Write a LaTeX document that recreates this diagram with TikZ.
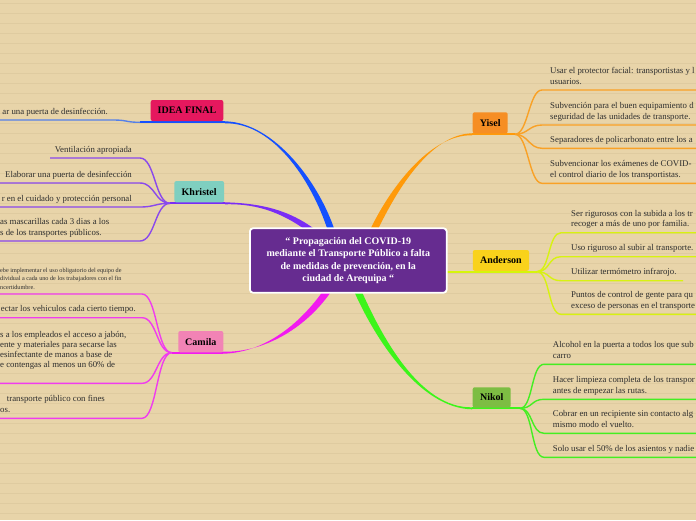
\documentclass[tikz,border=0pt]{standalone}
\usepackage{fontspec}
\setmainfont{Liberation Serif}
\usetikzlibrary{calc}
\pgfdeclarelayer{paper}
\pgfdeclarelayer{links}
\pgfsetlayers{paper,links,main}
\definecolor{bg}{HTML}{E8D4A9}
\definecolor{ruleline}{HTML}{DFCBA0}
\definecolor{blueB}{HTML}{1450FF}
\definecolor{iline}{HTML}{5580E8}
\definecolor{violetB}{HTML}{7A2CF5}
\definecolor{kline}{HTML}{8A48EC}
\definecolor{magB}{HTML}{F21AF0}
\definecolor{cline}{HTML}{F03CEE}
\definecolor{orangeB}{HTML}{FF9A0A}
\definecolor{yline}{HTML}{F9A126}
\definecolor{limeB}{HTML}{D6F50A}
\definecolor{aline}{HTML}{D8F210}
\definecolor{greenB}{HTML}{3CF51A}
\definecolor{nline}{HTML}{44EE22}
\definecolor{ideaF}{HTML}{E5185E}
\definecolor{khrF}{HTML}{7FCFC0}
\definecolor{camF}{HTML}{F283B5}
\definecolor{yisF}{HTML}{F68E24}
\definecolor{andF}{HTML}{F9D21B}
\definecolor{nikF}{HTML}{7DBD43}
\definecolor{hubF}{HTML}{662C90}
\definecolor{leaftext}{HTML}{2E2E2E}
\newcommand\leaffont{\fontsize{8.8}{10.7}\selectfont}
\newcommand\tinyleaf{\fontsize{6.2}{8.3}\selectfont}
\newcommand\boxfont{\fontsize{10}{12}\selectfont\bfseries}
\newcommand\hubfont{\fontsize{10}{12.4}\selectfont\bfseries}
\newcommand\taper[6]{\fill[#1] ($(#2)+#6$) .. controls ($#3+#6$) and #4 .. ($(#5)+(0,-1)$) -- ($(#5)+(0,1)$) .. controls #4 and ($#3-#6$) .. ($(#2)-#6$) -- cycle;}
\newcommand\leafleft[5]{\coordinate (#3s) at #4; \coordinate (#3e) at #5; \draw[#1] (#2) .. controls +(-15,0) and +(15,0) .. (#3s) -- (#3e);}
\newcommand\leafright[5]{\coordinate (#3s) at #4; \coordinate (#3e) at #5; \draw[#1] (#2) .. controls +(13,0) and +(-13,0) .. (#3s) -- (#3e);}
\tikzset{
  leaf/.style={font=\leaffont, text=leaftext, inner sep=0pt, align=left},
  tleaf/.style={font=\tinyleaf, text=leaftext, inner sep=0pt, align=left},
  topic/.style={rounded corners=2pt, inner sep=0pt, font=\boxfont, text=black},
  hub/.style={fill=hubF, draw=white, line width=1.8pt, rounded corners=3pt, inner sep=0pt,
    minimum width=196.7pt, minimum height=64.4pt, text=white, font=\hubfont, align=center},
  twig/.style={line width=1.4pt}
}
\begin{document}
\begin{tikzpicture}[x=1pt,y=-1pt]
\useasboundingbox (0,0) rectangle (696,520);
\begin{pgfonlayer}{paper}
\fill[bg] (0,0) rectangle (696,520);
\foreach \k in {0,...,51} \draw[ruleline, line width=0.6pt] (0,3.3+10*\k) -- (696,3.3+10*\k);
\end{pgfonlayer}

% hub and topic nodes
\node[hub] (hub) at (348.3,260.5) {“ Propagación del COVID-19\\mediante el Transporte Público a falta\\de medidas de prevención, en la\\ciudad de Arequipa “};
\node[topic, fill=ideaF, minimum width=72.6pt, minimum height=21pt] (idea) at (187,110.5) {IDEA FINAL};
\node[topic, fill=khrF, minimum width=49.7pt, minimum height=21.3pt] (khr) at (199.2,191.7) {Khristel};
\node[topic, fill=camF, minimum width=45pt, minimum height=21.3pt] (cam) at (200.8,341.7) {Camila};
\node[topic, fill=yisF, minimum width=35pt, minimum height=21pt] (yis) at (490.2,122.8) {Yisel};
\node[topic, fill=andF, minimum width=56.3pt, minimum height=20.7pt] (and) at (500.9,260.4) {Anderson};
\node[topic, fill=nikF, minimum width=38pt, minimum height=20.4pt] (nik) at (491.7,397.5) {Nikol};

% leaf texts (base anchor = baseline of the last line)
\node[leaf, anchor=base east] (i1) at (108,114) {ar una puerta de desinfección.};
\node[leaf, anchor=base east] (k1) at (132,152) {Ventilación apropiada};
\node[leaf, anchor=base east] (k2) at (132,177) {Elaborar una puerta de desinfección};
\node[leaf, anchor=base east] (k3) at (132,201) {r en el cuidado y protección personal};
\node[leaf, anchor=base west] (k4) at (0,235) {as mascarillas cada 3 dias a los\\s de los transportes públicos.};
\node[tleaf, anchor=base west] (c1) at (0,289.1) {ebe implementar el uso obligatorio del equipo de\\dividual a cada uno de los trabajadores con el fin\\ncertidumbre.};
\node[leaf, anchor=base east] (c2) at (136,311.7) {ectar los vehiculos cada cierto tiempo.};
\node[leaf, anchor=base west, font=\fontsize{8.8}{10}\selectfont] (c3) at (0,367.5) {s a los empleados el acceso a jabón,\\ente y materiales para secarse las\\esinfectante de manos a base de\\e contengas al menos un 60\% de};
\node[leaf, anchor=base west] (c4) at (0,412.3) {\hspace*{6.7pt}transporte público con fines\\os.};
\node[leaf, anchor=base west] (y1) at (550,84) {Usar el protector facial: transportistas y l\\usuarios.};
\node[leaf, anchor=base west] (y2) at (550,119) {Subvención para el buen equipamiento d\\seguridad de las unidades de transporte.};
\node[leaf, anchor=base west] (y3) at (550,142.3) {Separadores de policarbonato entre los a};
\node[leaf, anchor=base west] (y4) at (550,177.3) {Subvencionar los exámenes de COVID-\\el control diario de los transportistas.};
\node[leaf, anchor=base west] (a1) at (571,226.7) {Ser rigurosos con la subida a los tr\\recoger a más de uno por familia.};
\node[leaf, anchor=base west] (a2) at (571,250.7) {Uso riguroso al subir al transporte.};
\node[leaf, anchor=base west] (a3) at (571,274.7) {Utilizar termómetro infrarojo.};
\node[leaf, anchor=base west] (a4) at (571,308.3) {Puntos de control de gente para qu\\exceso de personas en el transporte};
\node[leaf, anchor=base west] (n1) at (552.7,358.3) {Alcohol en la puerta  a todos los que sub\\carro};
\node[leaf, anchor=base west] (n2) at (552.7,393.3) {Hacer limpieza completa de los transpor\\antes de empezar las rutas.};
\node[leaf, anchor=base west] (n3) at (552.7,427.3) {Cobrar en un recipiente sin contacto alg\\mismo modo el vuelto.};
\node[leaf, anchor=base west] (n4) at (552.7,451.3) {Solo usar el 50\% de los asientos y nadie};

\begin{pgfonlayer}{links}
% branch anchor coordinates
\coordinate (sI) at (333,236); \coordinate (eI) at (225,122.3); \coordinate (fI) at (140,122.3);
\coordinate (sK) at (316,234); \coordinate (eK) at (225,203.3); \coordinate (fK) at (170,203.3);
\coordinate (sC) at (330,287); \coordinate (eC) at (223,352.7); \coordinate (fC) at (171.7,352.7);
\coordinate (sY) at (371,236); \coordinate (eY) at (472,134.3); \coordinate (fY) at (515,134.3);
\coordinate (sA) at (440,271.7); \coordinate (fA) at (537,271.7);
\coordinate (sN) at (356,287); \coordinate (eN) at (472,408.3); \coordinate (fN) at (520,408.3);
% main branches
\taper{blueB}{sI}{(318,185)}{(275,122.3)}{eI}{(3.5,0)}
\draw[blueB, line width=2pt] (eI) -- (fI);
\taper{violetB}{sK}{(287,211)}{(258,203.3)}{eK}{(1.8,-2.4)}
\draw[violetB, line width=2pt] (eK) -- (fK);
\taper{magB}{sC}{(305,325)}{(265,352.7)}{eC}{(2.9,1.96)}
\draw[magB, line width=2pt] (eC) -- (fC);
\taper{orangeB}{sY}{(392,190)}{(430,134.3)}{eY}{(3.2,1.4)}
\draw[orangeB, line width=2pt] (eY) -- (fY);
\draw[limeB, line width=2.2pt] (sA) -- (fA);
\taper{greenB}{sN}{(378,338)}{(420,408.3)}{eN}{(3.15,-1.5)}
\draw[greenB, line width=2pt] (eN) -- (fN);
% twigs
\leafleft{twig, iline}{fI}{ti1}{(113,120)}{(-2,120)}
\leafleft{twig, kline}{fK}{tk1}{(140,158)}{(50,158)}
\leafleft{twig, kline}{fK}{tk2}{(140,183)}{(-2,183)}
\leafleft{twig, kline}{fK}{tk3}{(140,207)}{(-2,207)}
\leafleft{twig, kline}{fK}{tk4}{(140,241)}{(-2,241)}
\leafleft{twig, cline}{fC}{tc1}{(142,294)}{(-2,294)}
\leafleft{twig, cline}{fC}{tc2}{(142,317.7)}{(-2,317.7)}
\leafleft{twig, cline}{fC}{tc3}{(142,383.3)}{(-2,383.3)}
\leafleft{twig, cline}{fC}{tc4}{(142,418.3)}{(-2,418.3)}
\leafright{twig, yline}{fY}{ty1}{(542,90)}{(700,90)}
\leafright{twig, yline}{fY}{ty2}{(542,125)}{(700,125)}
\leafright{twig, yline}{fY}{ty3}{(542,148.3)}{(700,148.3)}
\leafright{twig, yline}{fY}{ty4}{(542,183.3)}{(700,183.3)}
\leafright{twig, aline}{fA}{ta1}{(561,232.7)}{(700,232.7)}
\leafright{twig, aline}{fA}{ta2}{(561,256.7)}{(700,256.7)}
\leafright{twig, aline}{fA}{ta3}{(561,280.7)}{(683,280.7)}
\leafright{twig, aline}{fA}{ta4}{(561,314.3)}{(700,314.3)}
\leafright{twig, nline}{fN}{tn1}{(544,364.3)}{(700,364.3)}
\leafright{twig, nline}{fN}{tn2}{(544,399.3)}{(700,399.3)}
\leafright{twig, nline}{fN}{tn3}{(544,433.3)}{(700,433.3)}
\leafright{twig, nline}{fN}{tn4}{(544,457.3)}{(700,457.3)}
\end{pgfonlayer}
\end{tikzpicture}
\end{document}
